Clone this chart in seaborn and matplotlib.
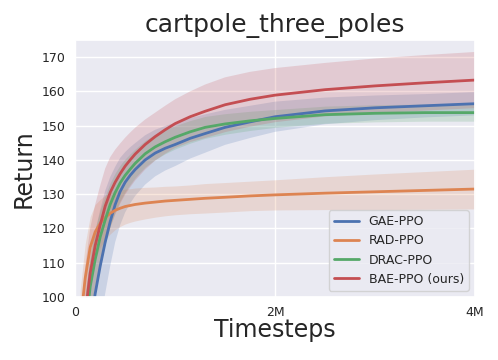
import numpy as np
import pandas as pd
import matplotlib
matplotlib.use("Agg")
import matplotlib.pyplot as plt
import seaborn as sns

# timesteps in millions
steps_m = [0.05, 0.1, 0.15, 0.2, 0.25, 0.3, 0.35, 0.4, 0.45, 0.5, 0.55, 0.6, 0.7,
           0.8, 0.9, 1.0, 1.15, 1.3, 1.5, 1.75, 2.0, 2.5, 3.0, 3.5, 4.0]

algos = ["GAE-PPO", "RAD-PPO", "DRAC-PPO", "BAE-PPO (ours)"]

gae_mean = [70, 80, 91, 101, 109, 116, 122, 127, 130.8, 133.5, 135.5, 137.2, 140,
            142, 143.4, 144.5, 146.3, 147.7, 149.5, 151.1, 152.6, 154.3, 155.2, 155.8, 156.4]
gae_hw = [20, 20, 19, 18, 16.5, 15, 13, 11, 9.8, 8.8, 8.2, 7.7, 7.2,
          6.8, 6.5, 6.3, 5.9, 5.6, 5.1, 4.7, 4.4, 3.9, 3.6, 3.4, 3.4]

rad_mean = [92, 105.5, 114.5, 119, 121.5, 123.2, 124.4, 125.3, 125.9, 126.4, 126.7, 127.0, 127.4,
            127.7, 128.0, 128.2, 128.5, 128.8, 129.1, 129.5, 129.8, 130.3, 130.7, 131.1, 131.5]
rad_hw = [10, 10, 9, 8, 7, 6.5, 6, 5.6, 5.3, 5.1, 4.9, 4.8, 4.6,
          4.4, 4.3, 4.2, 4.2, 4.3, 4.3, 4.3, 4.4, 4.8, 5.2, 5.5, 5.8]

drac_mean = [74, 90, 103, 111, 117.5, 122.5, 127, 130.5, 133.3, 135.5, 137.3, 139, 141.8,
             143.8, 145.3, 146.6, 148.2, 149.5, 150.5, 151.4, 152.1, 153.2, 153.6, 153.8, 153.8]
drac_hw = [10, 10, 10, 9, 8, 7, 6.3, 5.7, 5.2, 4.8, 4.5, 4.2, 3.9,
           3.7, 3.5, 3.4, 3.3, 3.2, 3.0, 2.8, 2.6, 2.5, 2.5, 2.5, 2.5]

bae_mean = [78, 95, 107, 115, 121, 126.5, 130.5, 133.5, 136, 138.2, 140, 141.7, 144.5,
            146.8, 148.8, 150.6, 152.6, 154.2, 156.1, 157.7, 158.9, 160.5, 161.6, 162.5, 163.3]
bae_hw = [14, 14, 13, 12, 11.5, 11, 10.3, 9.5, 8.8, 8.3, 8, 7.7, 7.3,
          7, 7, 7.1, 7.4, 7.8, 8, 8, 7.9, 7.8, 8, 8.1, 8.2]

means = [gae_mean, rad_mean, drac_mean, bae_mean]
halfwidths = [gae_hw, rad_hw, drac_hw, bae_hw]
colors = sns.color_palette("deep", 4)

sns.set_theme(style="darkgrid")

steps = np.array(steps_m) * 1e6
df = pd.concat([
    pd.DataFrame({"Timesteps": steps, "Return": m, "algo": a})
    for a, m in zip(algos, means)
])

fig, ax = plt.subplots(figsize=(4.98, 3.6), dpi=100)

for m, hw, c in zip(means, halfwidths, colors):
    m = np.array(m)
    hw = np.array(hw)
    ax.fill_between(steps, m - hw, m + hw, color=c, alpha=0.2, linewidth=0)

sns.lineplot(data=df, x="Timesteps", y="Return", hue="algo", palette=colors,
             linewidth=2, ax=ax)

ax.set_xlim(0, 4e6)
ax.set_ylim(100, 175)
ax.set_xticks([0, 2e6, 4e6])
ax.set_xticklabels(["0", "2M", "4M"])
ax.set_yticks(range(100, 171, 10))
ax.tick_params(labelsize=9, length=0)
ax.tick_params(axis="x", pad=6.5)
ax.tick_params(axis="y", pad=7)
ax.set_title("cartpole_three_poles", fontsize=18)
ax.set_xlabel("Timesteps", fontsize=17)
ax.set_ylabel("Return", fontsize=17)
ax.xaxis.set_label_coords(0.5, -0.08)
ax.yaxis.set_label_coords(-0.1, 0.5)
ax.legend(loc="lower right", fontsize=9)

fig.subplots_adjust(left=0.151, right=0.954, bottom=0.175, top=0.889)
fig.savefig("out.png", dpi=100)
